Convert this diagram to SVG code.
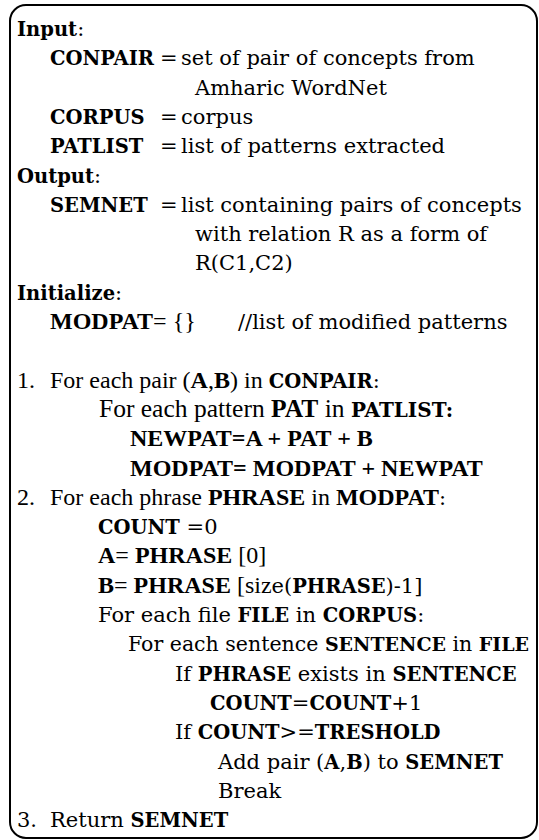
<svg xmlns="http://www.w3.org/2000/svg" width="539" height="840" viewBox="0 0 539 840">
<style>
.c{font-family:"DejaVu Serif","Liberation Serif",serif;font-size:21px;fill:#000}
.t{font-family:"Liberation Serif","DejaVu Serif",serif;font-size:24px;fill:#000}
.b{font-weight:bold}
.c .b,.c.b{font-size:19.5px}
.t.w{font-size:25.5px}
.t.w .c.b{font-size:20px}
.c.n{font-size:20.5px}
.c.n .b{font-size:19px}
</style>
<rect id="frame" x="10" y="5" width="527" height="833" rx="16" ry="16" fill="#fff" stroke="#000" stroke-width="2"/>
<g id="input">
<text class="c" x="17" y="36"><tspan class="b">Input</tspan>:</text>
<text class="c" x="50" y="65.3"><tspan class="b">CONPAIR</tspan><tspan x="160">=</tspan><tspan x="181">set of pair of concepts from</tspan></text>
<text class="c" x="195" y="94.6">Amharic WordNet</text>
<text class="c" x="50" y="123.9"><tspan class="b">CORPUS</tspan><tspan x="160">=</tspan><tspan x="181">corpus</tspan></text>
<text class="c" x="50" y="153.2"><tspan class="b">PATLIST</tspan><tspan x="160">=</tspan><tspan x="181">list of patterns extracted</tspan></text>
</g>
<g id="output">
<text class="c" x="17" y="182.5"><tspan class="b">Output</tspan>:</text>
<text class="c" x="50" y="211.8"><tspan class="b">SEMNET</tspan><tspan x="160">=</tspan><tspan x="181">list containing pairs of concepts</tspan></text>
<text class="c" x="195" y="241.1">with relation R as a form of</text>
<text class="c" x="195" y="270.4">R(C1,C2)</text>
</g>
<g id="initialize">
<text class="c" x="17" y="299.7"><tspan class="b">Initialize</tspan>:</text>
<text class="t" x="50" y="329"><tspan class="b">MODPAT</tspan>= {}</text>
<text class="c" x="238" y="329">//list of modified patterns</text>
</g>
<g id="step1">
<text class="t" x="17" y="387.6">1.<tspan x="50">For each pair (</tspan><tspan class="b">A</tspan>,<tspan class="b">B</tspan>) in <tspan class="c b">CONPAIR</tspan><tspan class="c">:</tspan></text>
<text class="t w" x="99" y="416.9">For each pattern <tspan class="b">PAT</tspan> in <tspan class="c b">PATLIST:</tspan></text>
<text class="t b" x="130" y="446.2">NEWPAT=A + PAT + B</text>
<text class="t b" x="130" y="475.5">MODPAT= MODPAT + NEWPAT</text>
</g>
<g id="step2">
<text class="t" x="17" y="504.8">2.<tspan x="50">For each phrase </tspan><tspan class="b">PHRASE</tspan> in <tspan class="b">MODPAT</tspan><tspan class="c">:</tspan></text>
<text class="c" x="98" y="534.1"><tspan class="b">COUNT</tspan> =0</text>
<text class="t" x="98" y="563.4"><tspan class="b">A</tspan>= <tspan class="b">PHRASE</tspan> [0]</text>
<text class="t" x="98" y="592.7"><tspan class="b">B</tspan>= <tspan class="b">PHRASE</tspan> [siz<tspan class="c">e(<tspan class="b">PHRASE</tspan>)-1]</tspan></text>
<text class="c" x="98" y="622">For each file <tspan class="b">FILE</tspan> in <tspan class="b">CORPUS</tspan>:</text>
<text class="c n" x="128" y="651.3">For each sentence <tspan class="b">SENTENCE</tspan> in <tspan class="b">FILE</tspan></text>
<text class="c" x="175" y="680.6">If <tspan class="b">PHRASE</tspan> exists in <tspan class="b">SENTENCE</tspan></text>
<text class="c" x="210" y="709.9"><tspan class="b">COUNT</tspan>=<tspan class="b">COUNT</tspan>+1</text>
<text class="c" x="175" y="739.2">If <tspan class="b">COUNT</tspan>&gt;=<tspan class="b">TRESHOLD</tspan></text>
<text class="c" x="218" y="768.5">Add pair (<tspan class="b">A</tspan>,<tspan class="b">B</tspan>) to <tspan class="b">SEMNET</tspan></text>
<text class="c" x="218" y="797.8">Break</text>
</g>
<g id="step3">
<text class="c" x="17" y="827.1">3.<tspan x="50">Return </tspan><tspan class="b">SEMNET</tspan></text>
</g>
</svg>
